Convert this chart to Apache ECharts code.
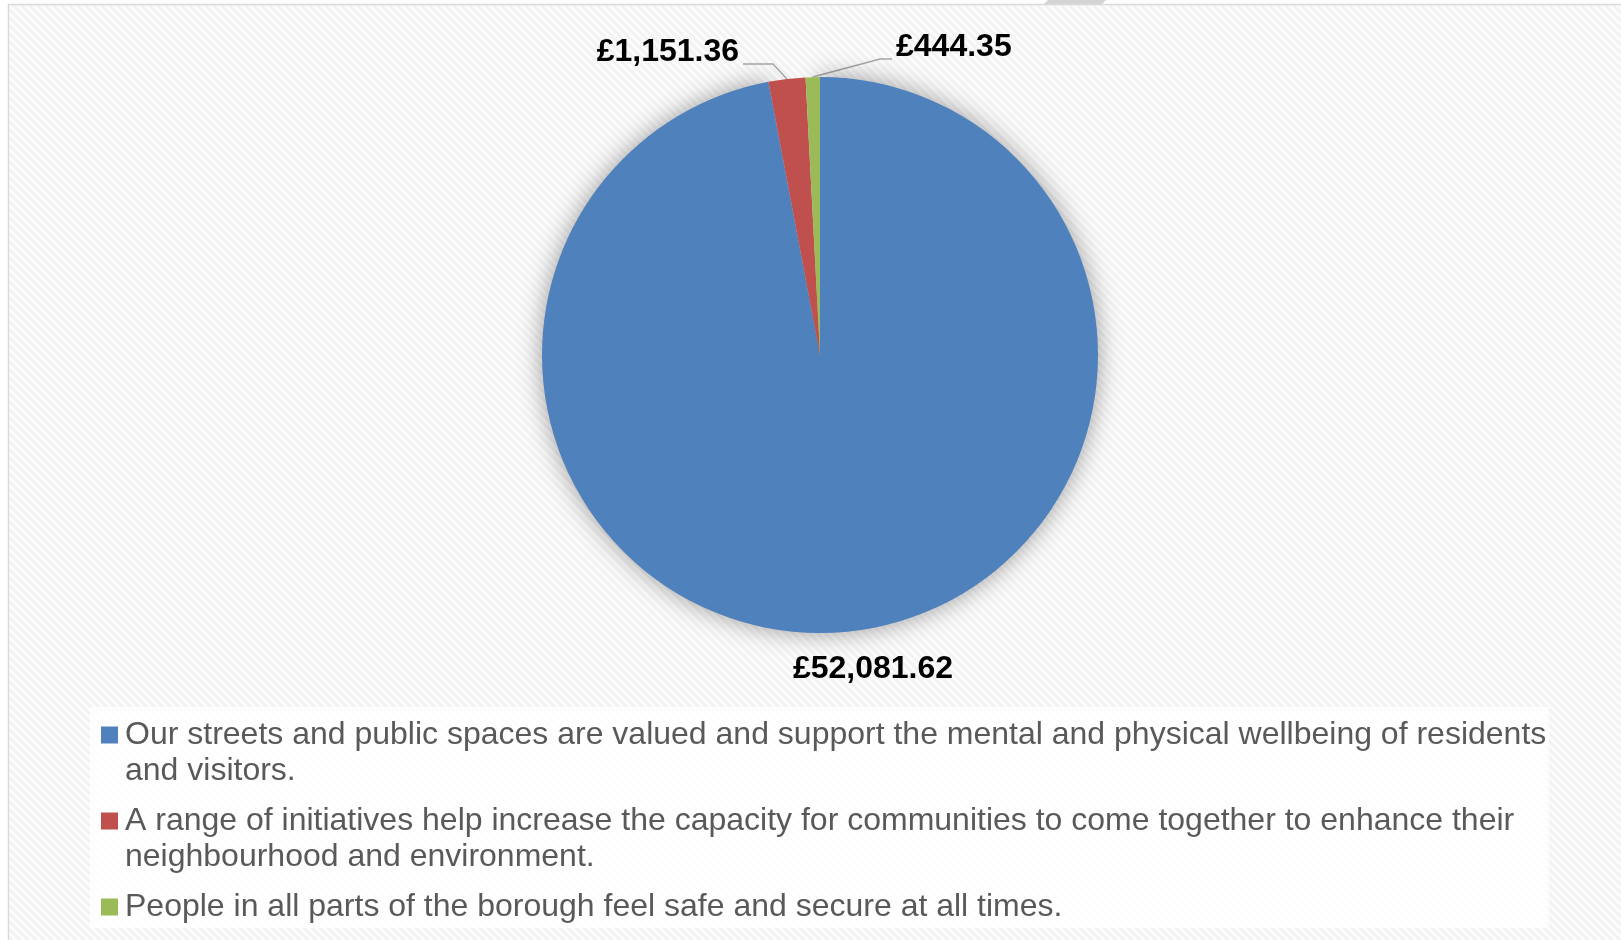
<!DOCTYPE html>
<html>
<head>
<meta charset="utf-8">
<title>Spend by outcome</title>
<script src="https://cdn.jsdelivr.net/npm/echarts@6/dist/echarts.min.js"></script>
<style>
  html, body { margin: 0; padding: 0; background: #ffffff; }
  #chart { width: 1621px; height: 940px; }
</style>
</head>
<body>
<div id="chart"></div>
<script>
// Outcomes and the amount spent on each
const categories = [
  'Our streets and public spaces are valued and support the mental and physical wellbeing of residents and visitors.',
  'A range of initiatives help increase the capacity for communities to come together to enhance their neighbourhood and environment.',
  'People in all parts of the borough feel safe and secure at all times.'
];
const amounts = [52081.62, 1151.36, 444.35];

const palette = ['#4f81bd', '#c0504d', '#9bbb59'];
const FONT = '"Liberation Sans", Arial, Helvetica, sans-serif';

// pie geometry
const CX = 820, CY = 355, R = 278;

// where each value label is centred, relative to the pie centre,
// and how long the flat part of its leader line is
const labelSpots = [
  { dx: 53, dy: R + 36, align: 'center', leg: 0 },
  { dx: -81, dy: -(R + 25), align: 'right', leg: 30 },
  { dx: 76, dy: -(R + 30), align: 'left', leg: 12 }
];

// legend text metrics
const LEGEND_FONT_SIZE = 32;
const LEGEND_LINE = 36;
const LEGEND_WRAP = 1450;

function money(v) {
  const parts = v.toFixed(2).split('.');
  return '£' + parts[0].replace(/\B(?=(\d{3})+(?!\d))/g, ',') + '.' + parts[1];
}

// a one-line entry gets a blank second line so every entry has the same height
const measureCtx = document.createElement('canvas').getContext('2d');
function legendText(name) {
  measureCtx.font = LEGEND_FONT_SIZE + 'px ' + FONT;
  return measureCtx.measureText(name).width <= LEGEND_WRAP ? name + '\n\u00a0' : name;
}

// light diagonal hatch used for the chart area
function hatchTile() {
  const size = 8;
  const c = document.createElement('canvas');
  c.width = size; c.height = size;
  const ctx = c.getContext('2d');
  const img = ctx.createImageData(size, size);
  for (let y = 0; y < size; y++) {
    for (let x = 0; x < size; x++) {
      const d = ((x - y) % size + size) % size;
      const v = Math.round(247 - 6 * Math.cos(2 * Math.PI * d / size));
      const k = (y * size + x) * 4;
      img.data[k] = v; img.data[k + 1] = v; img.data[k + 2] = v; img.data[k + 3] = 255;
    }
  }
  ctx.putImageData(img, 0, 0);
  return c;
}

// legend swatch: square sits level with the first text line
const SWATCH = 'path://M0,0L0.001,0M19,72L18.999,72M0,9.5H17V26.5H0Z';

const chart = echarts.init(document.getElementById('chart'), null, { renderer: 'canvas' });

chart.setOption({
  animation: false,
  backgroundColor: '#ffffff',
  textStyle: { fontFamily: FONT },
  graphic: [
    {
      type: 'rect', z: -20, silent: true,
      shape: { x: 8, y: 4, width: 1613, height: 936 },
      style: { fill: { image: hatchTile(), repeat: 'repeat' } }
    },
    {
      type: 'polyline', z: -19, silent: true,
      shape: { points: [[8.5, 940], [8.5, 4.5], [1621, 4.5]] },
      style: { stroke: '#d9d9d9', lineWidth: 1.5, fill: null }
    },
    {
      type: 'polygon', z: -19, silent: true,
      shape: { points: [[1044, 4], [1048, 0], [1106, 0], [1102, 4]] },
      style: { fill: '#d4d4d4' }
    },
    {
      type: 'rect', z: -18, silent: true,
      shape: { x: 90, y: 707, width: 1459, height: 221 },
      style: { fill: 'rgba(255,255,255,0.8)' }
    }
  ],
  legend: {
    orient: 'vertical',
    left: 101,
    top: 717,
    height: 300,
    padding: 0,
    itemGap: 14,
    itemWidth: 19,
    itemHeight: 2 * LEGEND_LINE,
    selectedMode: false,
    icon: SWATCH,
    itemStyle: { borderWidth: 0, shadowBlur: 0 },
    formatter: legendText,
    textStyle: {
      fontFamily: FONT,
      fontSize: LEGEND_FONT_SIZE,
      color: '#595959',
      lineHeight: LEGEND_LINE,
      width: LEGEND_WRAP,
      overflow: 'break'
    },
    data: categories
  },
  series: [{
    type: 'pie',
    center: [CX, CY],
    radius: R,
    startAngle: 90,
    clockwise: true,
    avoidLabelOverlap: false,
    emphasis: { disabled: true },
    itemStyle: { borderWidth: 0 },
    label: {
      show: true,
      position: 'outside',
      fontFamily: FONT,
      fontSize: 32,
      fontWeight: 'bold',
      color: '#000000',
      formatter: p => money(p.value)
    },
    labelLine: {
      show: true,
      length: 10,
      length2: 20,
      smooth: false,
      lineStyle: { color: '#a6a6a6', width: 1.5 }
    },
    labelLayout: function (params) {
      const s = labelSpots[params.dataIndex];
      const x = CX + s.dx, y = CY + s.dy;
      const out = { x: x, y: y, align: s.align, verticalAlign: 'middle' };
      const pts = params.labelLinePoints;
      if (s.leg && pts && pts.length) {
        // leader: from the slice edge up to the lower half of the text, then flat into it
        const dir = s.align === 'right' ? 1 : -1;
        const ly = y + 12;
        out.labelLinePoints = [
          pts[0].slice(),
          [x + dir * (4 + s.leg), ly],
          [x + dir * 4, ly]
        ];
      }
      return out;
    },
    data: categories.map((name, i) => {
      const item = {
        name: name,
        value: amounts[i],
        itemStyle: { color: palette[i] }
      };
      if (i === 0) {
        item.itemStyle.shadowBlur = 24;
        item.itemStyle.shadowColor = 'rgba(0,0,0,0.38)';
        item.labelLine = { show: false };
      }
      return item;
    })
  }]
});
</script>
</body>
</html>
